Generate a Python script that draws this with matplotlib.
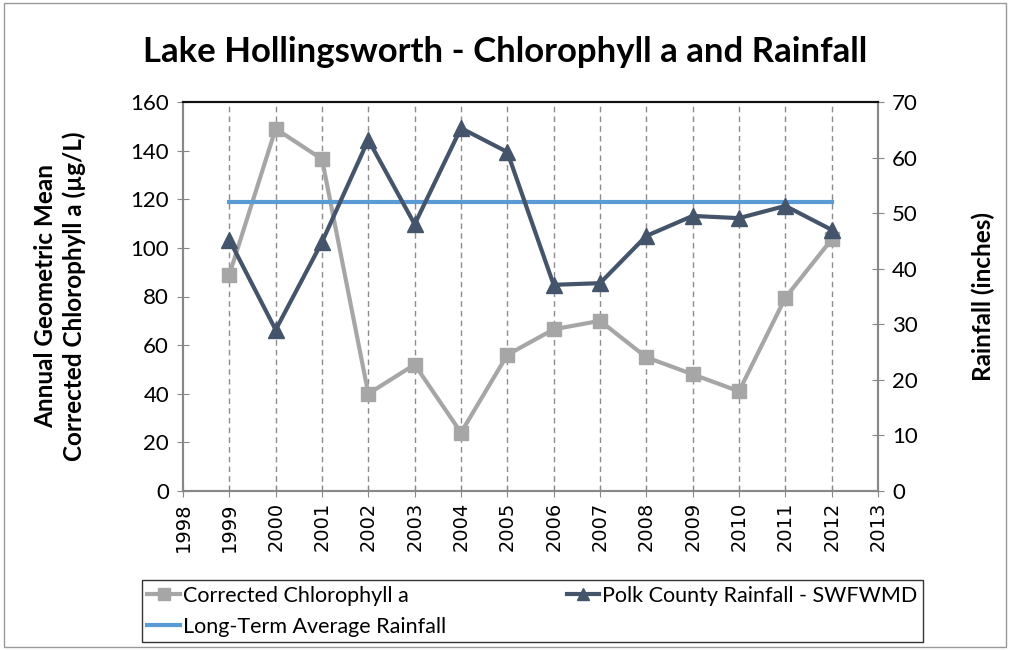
import matplotlib.pyplot as plt
from matplotlib.patches import Rectangle

years = [1999, 2000, 2001, 2002, 2003, 2004, 2005, 2006, 2007, 2008, 2009, 2010, 2011, 2012]
chl = [89, 149, 136.5, 40, 52, 24, 56, 66.5, 70, 55, 48, 41, 79.5, 103.5]
rain = [45.2, 29.0, 44.8, 63.2, 48.0, 65.3, 61.0, 37.1, 37.4, 45.9, 49.5, 49.1, 51.3, 47.0]
avg_rain = 52.0

plt.rcParams["font.family"] = ["Lato", "DejaVu Sans"]

fig = plt.figure(figsize=(10.1, 6.5), dpi=100)
ax = fig.add_axes([183 / 1010, 1 - 491 / 650, 695 / 1010, 389 / 650])
ax2 = ax.twinx()

# outer chart border
fig.patches.append(Rectangle((0.004, 0.004), 0.992, 0.992, transform=fig.transFigure,
                             fill=False, edgecolor="#999999", linewidth=1))

for y in years:
    ax.axvline(y, color="#8c8c8c", linestyle=(0, (4, 3)), linewidth=1, zorder=0)

l1, = ax.plot(years, chl, color="#a6a6a6", linewidth=3, marker="s", markersize=10,
              label="Corrected Chlorophyll a", zorder=3)
l2, = ax2.plot(years, rain, color="#44546a", linewidth=3, marker="^", markersize=11,
               label="Polk County Rainfall - SWFWMD", zorder=3)
l3, = ax2.plot([years[0], years[-1]], [avg_rain, avg_rain], color="#5b9bd5", linewidth=3,
               label="Long-Term Average Rainfall", zorder=2)

ax.set_xlim(1998, 2013)
ax.set_ylim(0, 160)
ax2.set_ylim(0, 70)
ax.set_xticks(range(1998, 2014))
ax.set_yticks(range(0, 161, 20))
ax2.set_yticks(range(0, 71, 10))
ax.tick_params(axis="x", labelrotation=90, labelsize=14, direction="inout", length=8,
               color="#888888", pad=4)
for lab in ax.get_xticklabels():
    lab.set_family("DejaVu Sans")
ax.tick_params(axis="y", labelsize=16, direction="inout", length=8, color="#888888", pad=6)
ax2.tick_params(axis="y", labelsize=16, direction="inout", length=8, color="#888888", pad=6)

for a in (ax, ax2):
    for s in ("left", "right", "bottom"):
        a.spines[s].set_color("#888888")
        a.spines[s].set_linewidth(1.5)
    a.spines["top"].set_color("#111111")
    a.spines["top"].set_linewidth(1.5)

ax.set_ylabel("Annual Geometric Mean\nCorrected Chlorophyll a (µg/L)", fontsize=17.5,
              fontweight="bold", labelpad=32, linespacing=1.25)
ax2.set_ylabel("Rainfall (inches)", fontsize=17.5, fontweight="bold", labelpad=39)
fig.text(0.5, 1 - 52 / 650, "Lake Hollingsworth - Chlorophyll a and Rainfall",
         ha="center", va="center", fontsize=25, fontweight="bold")

leg = fig.legend(handles=[l1, l3, l2], loc="lower left", ncol=2,
                 bbox_to_anchor=(142 / 1010, 8 / 650), fontsize=15.5,
                 frameon=True, fancybox=False, edgecolor="black", handlelength=1.5,
                 handletextpad=0.15, borderpad=0.25, borderaxespad=0, labelspacing=0.5,
                 columnspacing=5.6, markerscale=0.8)
leg.get_frame().set_linewidth(1)

fig.savefig("out.png", dpi=100)
